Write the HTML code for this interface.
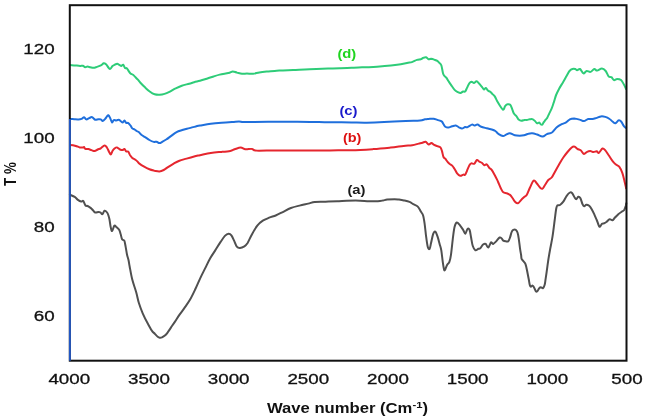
<!DOCTYPE html>
<html><head><meta charset="utf-8"><style>
html,body{margin:0;padding:0;background:#fff;}
body{width:647px;height:420px;overflow:hidden;}
svg{display:block;}
.tk{font-family:"Liberation Sans",Arial,sans-serif;font-size:15.3px;fill:#111;stroke:#111;stroke-width:0.3px;}
.ti{font-family:"Liberation Sans",Arial,sans-serif;font-weight:bold;font-size:14px;fill:#111;}
.lb{font-family:"Liberation Sans",Arial,sans-serif;font-weight:bold;font-size:12.2px;}
.c{fill:none;stroke-width:2.0;stroke-linejoin:round;stroke-linecap:round;}
</style></head><body>
<svg width="647" height="420" viewBox="0 0 647 420">
<rect x="0" y="0" width="647" height="420" fill="#fff"/>
<path class="c" stroke="#505050" d="M69.9,194.7 C70.7,195.1 73.4,196.0 74.7,196.9 C76.0,197.8 76.8,199.1 77.9,199.9 C79.0,200.7 80.2,201.4 81.1,201.6 C82.0,201.8 82.6,200.3 83.3,201.0 C84.0,201.7 84.8,204.7 85.5,205.5 C86.2,206.3 86.7,205.6 87.6,206.0 C88.5,206.4 90.0,207.4 90.9,208.1 C91.8,208.8 92.3,209.6 93.0,210.3 C93.7,211.0 94.3,212.2 95.2,212.5 C96.1,212.8 97.6,212.0 98.5,212.0 C99.4,212.0 99.9,212.1 100.6,212.5 C101.2,212.9 101.8,214.5 102.4,214.2 C103.1,213.9 103.7,211.0 104.5,210.7 C105.3,210.4 106.4,211.6 107.1,212.5 C107.8,213.4 108.2,214.8 108.6,216.0 C109.0,217.2 109.2,218.2 109.6,220.0 C109.9,221.8 110.3,225.2 110.7,227.1 C111.1,228.9 111.5,231.3 112.1,231.1 C112.7,230.9 113.6,226.4 114.3,225.7 C115.0,225.0 115.6,226.4 116.4,227.1 C117.2,227.8 118.6,228.8 119.3,230.0 C120.0,231.2 120.2,232.8 120.7,234.3 C121.2,235.9 121.5,238.2 122.1,239.3 C122.7,240.4 123.7,239.4 124.3,240.7 C124.9,242.0 125.2,244.7 125.7,247.1 C126.2,249.5 126.6,252.8 127.1,255.0 C127.6,257.2 128.2,258.6 128.6,260.5 C129.0,262.4 129.0,263.1 129.6,266.2 C130.2,269.3 131.1,274.9 132.2,279.3 C133.3,283.7 135.1,288.4 136.2,292.3 C137.3,296.2 137.7,299.3 138.8,302.8 C139.9,306.3 141.2,309.8 142.7,313.3 C144.2,316.8 146.3,320.8 147.9,323.7 C149.5,326.6 150.8,329.2 152.0,330.9 C153.2,332.6 154.0,332.8 154.9,333.8 C155.8,334.8 156.9,336.1 157.7,336.7 C158.5,337.3 159.0,337.6 159.7,337.7 C160.4,337.8 161.1,337.8 162.0,337.4 C162.9,337.0 164.0,336.4 164.9,335.6 C165.8,334.8 166.4,334.1 167.4,332.8 C168.4,331.5 169.6,329.5 170.9,327.6 C172.2,325.7 173.6,323.7 175.0,321.6 C176.4,319.5 177.7,317.3 179.2,315.1 C180.7,312.9 182.2,311.2 184.0,308.6 C185.8,306.0 188.2,302.9 190.1,299.6 C192.0,296.3 193.7,292.6 195.5,288.8 C197.3,285.0 199.3,280.1 201.0,276.6 C202.7,273.1 204.0,270.7 205.5,267.6 C207.0,264.5 208.6,261.0 210.2,258.2 C211.8,255.4 213.4,253.3 215.1,250.6 C216.8,247.9 219.0,244.3 220.6,241.9 C222.2,239.5 223.6,237.3 224.9,235.9 C226.2,234.5 227.5,233.8 228.6,233.7 C229.7,233.6 230.5,234.2 231.4,235.4 C232.3,236.6 233.3,239.0 234.2,240.9 C235.1,242.8 235.8,245.5 236.8,246.7 C237.8,247.9 238.7,248.1 240.0,248.0 C241.3,247.9 243.1,247.1 244.4,246.3 C245.7,245.5 246.3,245.0 247.6,243.0 C248.8,241.0 250.3,237.3 251.9,234.4 C253.5,231.5 255.5,228.0 257.3,225.7 C259.1,223.4 260.8,222.0 262.8,220.7 C264.8,219.4 267.1,218.6 269.2,217.7 C271.3,216.8 273.5,216.4 275.7,215.5 C277.9,214.6 279.7,213.6 282.2,212.3 C284.7,211.1 288.0,209.1 290.9,208.0 C293.8,206.9 296.6,206.3 299.5,205.6 C302.4,204.9 305.6,204.2 308.2,203.6 C310.8,203.0 311.9,202.2 314.8,201.9 C317.7,201.6 321.8,201.8 325.5,201.7 C329.2,201.6 332.1,201.5 337.1,201.3 C342.1,201.1 350.4,200.6 355.7,200.6 C361.0,200.6 365.3,201.1 369.0,201.2 C372.7,201.3 375.6,201.3 377.9,201.2 C380.2,201.1 381.4,200.8 383.0,200.5 C384.6,200.2 385.3,199.8 387.2,199.6 C389.1,199.4 392.6,199.2 394.6,199.2 C396.6,199.2 397.4,199.4 399.0,199.6 C400.6,199.8 402.1,200.0 403.9,200.4 C405.6,200.8 407.9,201.3 409.5,201.9 C411.1,202.5 411.8,203.3 413.2,204.1 C414.6,204.9 416.5,205.3 417.8,206.6 C419.1,207.9 420.1,210.3 421.0,211.8 C421.9,213.3 422.5,213.5 423.1,215.5 C423.7,217.5 424.1,220.1 424.6,223.6 C425.1,227.1 425.6,232.5 426.1,236.4 C426.6,240.3 427.2,245.0 427.8,247.1 C428.4,249.2 429.1,249.5 429.6,248.8 C430.2,248.1 430.5,245.3 431.1,242.8 C431.7,240.3 432.5,235.7 433.2,233.8 C433.9,232.0 434.6,231.3 435.3,231.7 C436.0,232.1 436.8,234.4 437.5,236.4 C438.2,238.4 439.0,241.6 439.6,243.9 C440.2,246.2 440.8,247.3 441.3,250.3 C441.8,253.3 442.3,258.8 442.8,262.1 C443.3,265.4 443.8,269.3 444.3,270.2 C444.8,271.1 445.5,268.5 446.0,267.5 C446.5,266.5 446.9,265.1 447.5,264.2 C448.1,263.3 448.7,263.7 449.3,262.1 C449.9,260.5 450.4,258.9 451.0,254.6 C451.6,250.3 452.5,241.0 453.1,236.4 C453.7,231.8 454.0,229.1 454.6,226.8 C455.2,224.5 455.9,222.8 456.8,222.5 C457.7,222.2 458.9,224.1 460.0,225.3 C461.1,226.6 462.3,228.6 463.2,230.0 C464.1,231.4 464.6,234.0 465.3,233.8 C466.0,233.6 466.8,229.5 467.5,228.9 C468.2,228.3 469.0,228.6 469.6,230.0 C470.2,231.4 470.6,234.8 471.1,237.5 C471.6,240.2 472.1,243.9 472.8,246.0 C473.5,248.1 474.5,249.8 475.4,250.3 C476.3,250.8 477.4,249.2 478.2,248.8 C479.0,248.5 479.5,248.9 480.3,248.2 C481.1,247.5 482.2,245.2 483.1,244.5 C484.0,243.8 484.9,243.4 485.7,243.9 C486.5,244.4 487.3,247.8 488.2,247.5 C489.1,247.2 490.2,243.0 491.0,242.4 C491.8,241.8 492.3,244.1 493.2,243.9 C494.1,243.7 495.3,242.2 496.4,241.1 C497.5,240.0 498.7,237.9 499.6,237.5 C500.5,237.1 501.1,237.9 501.7,238.4 C502.3,238.9 502.6,240.1 503.3,240.6 C504.0,241.1 505.0,241.2 505.8,241.3 C506.6,241.4 507.6,241.8 508.3,241.2 C509.0,240.6 509.4,239.1 510.0,237.5 C510.6,235.9 511.1,233.2 511.7,231.9 C512.2,230.6 512.6,230.2 513.3,229.8 C514.0,229.5 515.1,229.4 515.8,229.8 C516.5,230.2 517.0,231.1 517.5,232.5 C518.0,233.9 518.3,235.7 518.7,238.3 C519.1,240.9 519.6,245.5 520.0,248.3 C520.4,251.1 520.8,253.2 521.1,255.0 C521.4,256.8 521.2,257.8 521.6,258.8 C522.0,259.8 522.6,260.1 523.3,261.0 C523.9,261.9 524.9,262.6 525.5,264.2 C526.1,265.8 526.6,268.2 527.1,270.8 C527.6,273.4 528.3,277.1 528.8,279.5 C529.2,281.9 529.4,283.8 529.8,285.0 C530.1,286.2 530.4,286.6 530.9,286.7 C531.4,286.8 532.0,285.4 532.6,285.6 C533.2,285.8 533.7,286.7 534.2,287.7 C534.8,288.7 535.4,290.8 535.9,291.4 C536.4,291.9 537.0,291.5 537.5,291.0 C538.0,290.5 538.6,288.9 539.1,288.3 C539.6,287.7 540.1,287.2 540.8,287.2 C541.4,287.2 542.4,288.5 543.0,288.1 C543.6,287.7 544.1,286.6 544.6,285.0 C545.1,283.4 545.2,281.5 545.7,278.4 C546.2,275.3 547.0,269.5 547.4,266.4 C547.8,263.3 547.9,262.7 548.3,260.0 C548.7,257.3 549.3,253.9 550.0,250.0 C550.7,246.1 551.7,241.7 552.5,236.7 C553.3,231.7 554.1,224.7 554.7,220.0 C555.3,215.3 555.8,210.8 556.3,208.3 C556.8,205.9 556.9,205.9 557.5,205.3 C558.1,204.8 559.0,205.6 560.0,205.0 C561.0,204.4 562.2,203.2 563.3,201.7 C564.4,200.2 565.6,197.3 566.7,195.8 C567.8,194.3 569.1,193.0 570.0,192.5 C570.9,192.0 571.3,192.3 572.0,193.0 C572.7,193.7 573.5,195.7 574.2,196.7 C574.9,197.7 575.5,199.2 576.2,199.2 C576.9,199.2 577.6,196.9 578.3,196.7 C579.0,196.5 579.6,196.8 580.3,198.0 C581.0,199.2 581.9,202.8 582.5,204.2 C583.1,205.6 583.6,206.2 584.2,206.3 C584.8,206.4 585.5,204.8 586.3,204.7 C587.1,204.6 588.3,205.1 589.2,205.8 C590.1,206.6 590.9,207.8 591.7,209.2 C592.5,210.6 593.4,212.4 594.2,214.2 C595.0,216.0 596.0,218.2 596.7,220.0 C597.5,221.8 598.2,224.2 598.7,225.3 C599.2,226.4 599.5,227.0 600.0,226.7 C600.5,226.4 601.3,224.3 602.0,223.7 C602.7,223.1 603.4,223.6 604.2,223.3 C605.0,223.0 605.8,222.4 606.7,221.7 C607.6,221.0 608.7,219.4 609.7,219.2 C610.7,219.0 611.6,220.6 612.5,220.3 C613.4,220.0 614.0,218.5 615.0,217.5 C616.0,216.5 617.2,215.2 618.3,214.2 C619.4,213.2 620.7,212.4 621.7,211.7 C622.7,211.0 623.5,211.0 624.2,210.0 C624.9,209.0 625.4,206.9 625.8,205.8 C626.1,204.7 626.2,203.7 626.3,203.3"/>
<path class="c" stroke="#e5262e" d="M69.9,144.9 C70.4,144.9 71.9,145.0 73.0,145.2 C74.1,145.4 75.6,145.8 76.7,146.2 C77.8,146.6 78.8,147.2 79.8,147.4 C80.8,147.6 82.2,147.6 82.9,147.5 C83.6,147.4 83.6,146.8 84.0,147.0 C84.4,147.2 84.6,148.6 85.3,148.9 C86.0,149.2 87.4,148.9 88.4,149.1 C89.4,149.3 90.5,149.8 91.5,150.1 C92.5,150.4 93.6,151.2 94.6,151.1 C95.6,151.0 96.7,150.0 97.7,149.5 C98.7,149.0 99.7,149.0 100.8,148.3 C101.9,147.6 103.6,145.5 104.6,145.4 C105.6,145.3 106.3,146.7 107.0,147.7 C107.7,148.7 108.3,150.3 108.9,151.4 C109.5,152.5 110.2,154.6 110.8,154.5 C111.4,154.4 112.0,151.8 112.6,150.8 C113.2,149.8 113.8,149.2 114.5,148.6 C115.2,148.0 116.1,147.2 117.0,147.4 C117.9,147.6 119.1,149.1 120.0,149.5 C120.9,149.9 121.8,150.2 122.5,150.1 C123.2,150.0 123.8,148.7 124.4,148.9 C125.0,149.1 125.6,151.0 126.2,151.4 C126.8,151.8 127.4,151.0 128.1,151.6 C128.8,152.2 129.4,154.1 130.1,155.2 C130.8,156.2 131.5,157.2 132.3,157.9 C133.1,158.6 134.3,159.0 135.1,159.6 C135.9,160.2 136.6,160.7 137.3,161.4 C138.0,162.1 138.3,162.8 139.4,163.6 C140.5,164.4 142.0,165.4 143.7,166.4 C145.4,167.4 147.6,168.6 149.4,169.3 C151.2,170.0 152.7,170.3 154.4,170.7 C156.1,171.0 157.9,171.5 159.4,171.4 C160.9,171.3 162.3,170.7 163.7,170.0 C165.1,169.3 166.3,168.2 168.0,167.1 C169.7,166.0 171.8,164.7 173.7,163.6 C175.6,162.5 177.2,161.5 179.4,160.7 C181.6,159.9 183.9,159.4 186.6,158.6 C189.3,157.8 193.6,156.6 195.8,156.0 C198.0,155.4 197.5,155.7 200.0,155.2 C202.5,154.7 207.2,153.6 210.8,153.0 C214.4,152.4 218.3,152.2 221.6,151.9 C224.8,151.6 228.1,151.3 230.3,150.9 C232.5,150.5 232.9,149.9 234.6,149.3 C236.3,148.8 238.9,147.6 240.7,147.6 C242.5,147.6 243.5,149.1 245.4,149.3 C247.3,149.5 250.1,148.7 251.9,148.9 C253.7,149.1 252.3,150.3 256.3,150.6 C260.3,150.8 268.9,150.4 275.7,150.4 C282.5,150.4 290.2,150.6 297.4,150.6 C304.6,150.6 313.6,150.6 319.0,150.6 C324.4,150.6 324.6,150.5 330.0,150.4 C335.4,150.3 344.4,150.4 351.6,150.2 C358.8,150.0 366.8,149.5 373.3,149.1 C379.8,148.7 385.6,148.1 390.6,147.6 C395.7,147.1 400.0,146.3 403.6,145.9 C407.2,145.5 409.7,145.6 412.2,145.2 C414.7,144.8 417.0,144.0 418.7,143.6 C420.4,143.2 421.4,143.0 422.5,142.7 C423.6,142.4 424.6,141.5 425.6,141.8 C426.6,142.1 427.7,144.4 428.7,144.6 C429.7,144.8 430.5,142.9 431.4,143.0 C432.3,143.1 433.2,144.4 434.2,144.9 C435.2,145.4 436.3,145.7 437.3,146.1 C438.3,146.5 439.6,146.6 440.4,147.4 C441.2,148.2 441.5,149.5 442.0,151.1 C442.5,152.7 442.9,155.7 443.5,157.0 C444.1,158.3 444.6,157.8 445.3,158.7 C446.0,159.6 447.1,161.3 447.8,162.2 C448.5,163.1 448.9,163.4 449.7,164.0 C450.5,164.6 451.6,165.1 452.4,165.9 C453.2,166.7 453.8,167.8 454.6,169.0 C455.4,170.2 456.2,172.2 457.1,173.3 C458.0,174.4 459.2,175.6 460.2,175.8 C461.2,176.0 462.5,174.8 463.3,174.6 C464.1,174.4 464.5,175.4 465.1,174.8 C465.7,174.2 466.3,172.4 467.0,170.8 C467.7,169.2 468.7,166.5 469.4,165.3 C470.1,164.1 470.5,163.7 471.3,163.4 C472.1,163.1 473.5,164.3 474.4,163.7 C475.3,163.1 476.1,160.3 476.9,160.0 C477.7,159.7 478.5,161.1 479.3,161.6 C480.1,162.1 481.0,162.2 481.8,162.8 C482.6,163.4 483.5,165.0 484.3,165.3 C485.1,165.6 485.9,164.0 486.7,164.4 C487.5,164.8 488.4,166.9 489.2,167.8 C490.0,168.7 490.8,168.7 491.7,169.9 C492.6,171.1 493.9,173.5 494.8,175.2 C495.7,176.9 496.7,178.9 497.3,180.1 C497.9,181.3 497.7,181.1 498.3,182.5 C498.9,183.9 500.0,186.7 500.8,188.3 C501.6,189.9 502.3,191.5 503.3,192.3 C504.3,193.1 505.6,192.8 506.7,193.2 C507.8,193.6 509.0,194.1 510.0,194.9 C511.0,195.7 511.7,196.9 512.5,198.0 C513.3,199.1 514.1,200.8 515.0,201.7 C515.9,202.6 517.0,203.5 518.0,203.3 C519.0,203.1 519.8,201.4 520.8,200.3 C521.8,199.2 523.2,197.9 524.2,197.0 C525.2,196.1 525.7,196.6 526.7,195.0 C527.7,193.4 528.8,189.9 530.0,187.5 C531.2,185.1 532.6,181.2 533.7,180.5 C534.8,179.8 535.7,182.1 536.7,183.3 C537.8,184.5 539.0,186.6 540.0,187.5 C541.0,188.4 541.7,189.1 542.5,188.7 C543.3,188.3 544.0,186.4 545.0,185.0 C546.0,183.6 547.2,181.2 548.3,180.0 C549.4,178.8 550.6,178.9 551.7,177.5 C552.8,176.1 553.8,173.9 555.0,171.7 C556.2,169.5 557.8,166.6 559.2,164.2 C560.6,161.8 561.9,159.5 563.3,157.5 C564.7,155.5 566.1,153.7 567.5,152.0 C568.9,150.3 570.6,148.4 571.7,147.5 C572.8,146.6 573.3,146.3 574.3,146.6 C575.3,146.8 576.4,148.4 577.5,149.0 C578.6,149.6 579.6,149.5 580.7,150.3 C581.8,151.1 582.8,153.7 583.9,153.9 C585.0,154.2 586.0,152.3 587.1,151.8 C588.2,151.3 589.2,151.1 590.3,151.1 C591.4,151.1 592.4,152.0 593.5,152.0 C594.6,152.0 595.8,151.2 596.7,151.3 C597.6,151.4 597.9,153.3 598.9,152.8 C599.9,152.3 601.4,148.9 602.5,148.5 C603.6,148.1 604.3,149.2 605.3,150.3 C606.3,151.4 607.2,153.2 608.5,155.0 C609.8,156.8 611.5,159.8 612.8,161.4 C614.0,163.0 614.9,163.7 616.0,164.6 C617.1,165.5 618.1,165.3 619.2,166.7 C620.3,168.1 621.5,170.7 622.4,173.2 C623.3,175.7 624.0,179.2 624.6,181.7 C625.2,184.2 625.9,187.1 626.1,188.2"/>
<path class="c" stroke="#1f6fdc" d="M69.9,118.9 C70.6,119.0 72.8,119.1 74.2,119.2 C75.6,119.3 77.3,119.5 78.5,119.4 C79.7,119.4 80.7,119.2 81.6,118.9 C82.5,118.6 83.3,117.2 84.1,117.3 C84.9,117.4 85.5,119.2 86.3,119.4 C87.1,119.6 88.2,118.6 89.1,118.2 C90.0,117.8 90.8,116.9 91.5,116.9 C92.2,116.9 92.8,117.7 93.4,118.2 C94.0,118.7 94.5,119.6 95.3,119.8 C96.1,120.0 97.5,119.3 98.4,119.2 C99.3,119.1 100.1,119.1 100.8,119.4 C101.5,119.7 102.0,121.1 102.7,121.0 C103.4,120.9 104.5,119.7 105.2,118.9 C105.9,118.1 106.5,117.0 107.0,116.4 C107.5,115.8 107.8,115.0 108.3,115.2 C108.8,115.5 109.5,116.7 110.1,117.9 C110.7,119.1 111.4,121.9 112.0,122.3 C112.6,122.7 113.1,120.4 113.8,120.1 C114.5,119.8 115.5,120.5 116.3,120.4 C117.1,120.4 118.2,119.8 118.8,119.8 C119.4,119.8 119.4,119.9 120.0,120.4 C120.6,120.9 121.8,122.6 122.5,122.6 C123.2,122.6 123.8,120.4 124.4,120.4 C125.0,120.5 125.6,122.5 126.2,122.9 C126.8,123.3 127.6,122.7 128.1,122.9 C128.6,123.1 128.9,123.6 129.3,124.1 C129.7,124.6 130.1,125.0 130.6,125.7 C131.1,126.4 131.7,127.8 132.3,128.4 C132.9,129.0 133.7,128.9 134.4,129.3 C135.1,129.7 135.9,130.5 136.6,131.0 C137.3,131.5 137.9,131.4 138.7,132.1 C139.5,132.8 140.5,134.2 141.6,135.0 C142.7,135.8 143.8,136.3 145.1,137.1 C146.4,137.9 148.0,139.2 149.4,140.0 C150.8,140.8 152.5,141.6 153.7,141.9 C154.9,142.2 155.6,141.5 156.6,141.7 C157.6,141.9 158.3,143.1 159.4,143.1 C160.5,143.1 161.8,142.0 163.0,141.4 C164.2,140.8 165.3,140.2 166.6,139.3 C167.9,138.4 169.2,137.3 170.9,136.1 C172.6,134.9 174.7,133.1 176.6,132.1 C178.5,131.1 180.2,130.7 182.3,130.0 C184.4,129.3 187.2,128.7 189.4,128.1 C191.7,127.5 194.0,126.8 195.8,126.4 C197.6,126.0 197.5,125.9 200.0,125.5 C202.5,125.1 207.2,124.3 210.8,123.8 C214.4,123.3 218.0,123.0 221.6,122.7 C225.2,122.4 229.6,122.1 232.5,121.9 C235.4,121.7 237.2,121.4 239.0,121.4 C240.8,121.4 240.8,122.0 243.3,122.1 C245.8,122.2 248.7,122.0 254.1,121.9 C259.5,121.9 268.5,121.8 275.7,121.8 C282.9,121.8 290.2,121.8 297.4,121.8 C304.6,121.8 313.6,122.0 319.0,122.1 C324.4,122.2 324.6,122.1 330.0,122.2 C335.4,122.3 345.5,122.4 351.6,122.5 C357.7,122.6 361.4,122.8 366.8,122.7 C372.2,122.6 377.6,122.4 384.1,122.1 C390.6,121.8 399.7,121.3 405.7,121.0 C411.7,120.7 416.8,120.8 420.0,120.5 C423.2,120.2 423.4,119.6 424.9,119.3 C426.3,119.0 427.2,119.0 428.7,118.9 C430.1,118.8 432.2,118.5 433.6,118.7 C435.0,118.9 436.0,119.5 437.3,119.9 C438.6,120.4 440.6,120.7 441.6,121.4 C442.6,122.1 442.9,123.3 443.5,124.2 C444.1,125.1 444.5,126.1 445.3,126.7 C446.1,127.3 447.3,127.7 448.4,127.6 C449.5,127.5 450.9,126.6 452.1,126.3 C453.3,126.0 454.7,125.3 455.8,125.5 C456.9,125.7 457.9,126.8 458.9,127.3 C459.9,127.8 461.0,128.5 462.0,128.5 C463.0,128.5 464.2,127.3 465.1,127.1 C466.0,126.9 466.5,127.5 467.6,127.1 C468.7,126.7 470.8,124.9 471.9,124.6 C473.0,124.3 473.5,125.5 474.4,125.5 C475.3,125.5 476.4,124.4 477.5,124.6 C478.6,124.8 479.7,126.1 481.2,126.7 C482.7,127.3 484.9,127.8 486.7,128.3 C488.4,128.8 490.2,129.1 491.7,129.5 C493.1,129.9 494.2,130.2 495.4,131.0 C496.6,131.8 497.4,133.3 498.7,134.1 C500.0,134.9 501.8,135.9 503.0,136.0 C504.2,136.1 505.0,135.2 506.1,134.7 C507.2,134.2 508.4,133.1 509.8,133.2 C511.2,133.3 513.1,134.9 514.8,135.3 C516.4,135.7 518.2,135.7 519.7,135.7 C521.2,135.7 522.5,135.6 524.0,135.3 C525.5,135.0 527.0,134.0 528.4,133.7 C529.8,133.3 530.7,133.1 532.1,133.2 C533.5,133.3 535.2,133.9 537.0,134.5 C538.8,135.1 541.0,136.7 542.6,136.6 C544.2,136.5 545.4,134.8 546.9,134.1 C548.4,133.4 550.2,133.6 551.9,132.5 C553.5,131.4 555.2,128.7 556.8,127.3 C558.4,125.9 560.2,125.0 561.7,124.2 C563.2,123.4 564.8,123.2 566.1,122.4 C567.5,121.6 568.5,120.0 569.8,119.3 C571.1,118.6 572.5,118.4 574.1,118.4 C575.7,118.5 578.0,119.1 579.6,119.6 C581.2,120.0 582.5,121.2 583.9,121.1 C585.3,121.0 586.8,119.3 588.2,119.0 C589.6,118.7 591.2,119.2 592.5,119.0 C593.8,118.8 594.7,118.5 596.1,118.1 C597.5,117.7 599.5,116.6 601.0,116.4 C602.5,116.2 603.9,116.5 605.3,116.9 C606.7,117.3 608.4,118.2 609.6,119.0 C610.9,119.8 611.8,121.1 612.8,121.8 C613.8,122.5 614.4,123.5 615.4,123.3 C616.4,123.0 617.8,120.5 618.8,120.3 C619.8,120.0 620.5,120.8 621.4,121.8 C622.2,122.8 623.1,125.1 623.9,126.1 C624.7,127.1 625.7,127.7 626.1,128.0"/>
<path class="c" stroke="#2ecc78" d="M69.9,65.0 C70.8,65.1 73.7,65.2 75.4,65.4 C77.1,65.6 78.9,65.9 80.1,65.9 C81.3,66.0 81.9,65.5 82.8,65.7 C83.7,65.9 84.4,67.2 85.2,67.3 C86.0,67.4 86.7,66.6 87.5,66.6 C88.3,66.6 89.3,67.0 90.3,67.2 C91.3,67.4 92.4,67.8 93.5,67.8 C94.6,67.8 95.6,67.3 96.8,66.9 C98.0,66.5 99.8,66.0 100.9,65.4 C102.1,64.8 102.9,63.5 103.7,63.3 C104.5,63.1 105.2,63.6 106.0,64.3 C106.8,65.0 107.7,66.7 108.4,67.5 C109.1,68.3 109.5,69.1 110.2,68.9 C110.9,68.7 111.7,66.8 112.5,66.1 C113.3,65.4 114.0,65.1 114.8,64.7 C115.6,64.3 116.4,63.8 117.2,63.8 C118.0,63.8 118.8,64.7 119.5,65.0 C120.2,65.3 120.7,66.0 121.3,65.9 C121.9,65.9 122.6,64.4 123.2,64.7 C123.8,65.0 124.4,67.4 125.0,68.0 C125.6,68.6 126.2,67.7 126.8,68.2 C127.4,68.7 128.1,70.2 128.7,71.1 C129.3,72.0 129.8,72.9 130.5,73.5 C131.2,74.1 132.2,74.2 133.0,74.8 C133.8,75.4 134.7,76.4 135.5,77.2 C136.3,78.0 137.1,78.8 137.9,79.7 C138.7,80.6 139.3,81.6 140.4,82.8 C141.5,84.0 143.1,85.6 144.7,87.1 C146.2,88.5 148.0,90.3 149.7,91.5 C151.3,92.7 152.9,93.8 154.6,94.3 C156.2,94.8 157.9,94.9 159.6,94.8 C161.2,94.7 162.9,94.4 164.5,93.9 C166.1,93.4 167.6,92.7 169.4,91.8 C171.2,90.9 173.5,89.4 175.6,88.4 C177.7,87.4 179.5,86.5 181.8,85.7 C184.1,84.9 187.1,84.3 189.2,83.7 C191.3,83.1 192.4,82.7 194.2,82.2 C196.0,81.7 197.8,81.4 200.0,80.8 C202.2,80.2 205.2,79.2 207.4,78.5 C209.7,77.8 211.4,77.2 213.5,76.5 C215.6,75.8 217.2,75.2 219.7,74.6 C222.2,74.0 226.2,73.5 228.4,73.0 C230.6,72.5 231.3,71.5 232.7,71.4 C234.1,71.3 235.4,72.2 237.0,72.6 C238.6,73.0 240.3,73.6 242.0,73.8 C243.7,74.0 245.1,73.6 246.9,73.6 C248.8,73.6 251.0,74.0 253.1,73.8 C255.2,73.6 257.0,72.8 259.3,72.4 C261.6,72.0 264.1,71.7 266.7,71.4 C269.3,71.2 272.0,71.1 274.7,70.9 C277.4,70.7 279.9,70.6 283.0,70.4 C286.1,70.2 289.6,70.2 293.2,70.0 C296.8,69.8 300.9,69.7 304.8,69.5 C308.7,69.3 312.5,69.2 316.4,69.1 C320.3,68.9 324.1,68.8 328.0,68.6 C331.9,68.4 335.7,68.3 339.6,68.2 C343.5,68.1 347.9,68.0 351.6,67.8 C355.3,67.6 358.4,67.4 362.0,67.3 C365.6,67.2 369.5,67.1 373.3,66.9 C377.1,66.7 380.7,66.4 384.7,66.1 C388.7,65.8 393.4,65.3 397.1,64.8 C400.8,64.3 404.5,63.5 407.0,63.0 C409.5,62.5 410.2,62.6 411.9,62.1 C413.5,61.6 415.4,60.4 416.9,59.9 C418.3,59.4 419.6,59.6 420.6,59.3 C421.6,59.0 422.1,58.4 423.0,58.0 C423.9,57.6 425.2,57.0 426.1,57.2 C427.0,57.4 427.8,59.0 428.6,59.3 C429.4,59.5 430.2,58.7 431.1,58.7 C432.0,58.8 433.2,59.2 434.2,59.6 C435.2,60.0 436.5,60.4 437.3,60.9 C438.1,61.4 438.4,61.8 439.1,62.6 C439.8,63.4 440.8,63.7 441.4,65.5 C442.0,67.3 442.5,71.5 443.0,73.2 C443.5,75.0 443.9,75.2 444.5,76.0 C445.1,76.8 445.9,77.1 446.5,77.9 C447.1,78.7 447.6,79.7 448.4,81.0 C449.2,82.3 450.5,84.1 451.5,85.6 C452.5,87.1 453.6,88.8 454.6,89.9 C455.6,91.0 456.7,91.6 457.7,92.1 C458.7,92.6 459.6,93.1 460.5,93.0 C461.4,92.9 462.3,91.8 463.1,91.5 C463.9,91.2 464.5,92.1 465.1,91.5 C465.8,90.9 466.3,89.3 467.0,87.9 C467.7,86.5 468.5,84.3 469.3,83.3 C470.1,82.3 470.8,81.8 471.6,81.7 C472.4,81.7 473.1,83.1 473.9,83.0 C474.7,82.9 475.7,81.2 476.6,81.3 C477.5,81.4 478.3,82.7 479.3,83.7 C480.3,84.7 481.6,86.5 482.4,87.5 C483.2,88.5 483.4,89.4 484.0,89.5 C484.6,89.6 485.2,87.7 485.8,87.9 C486.4,88.1 487.2,89.9 487.9,90.6 C488.6,91.2 489.4,91.2 490.2,91.8 C491.0,92.4 491.7,93.3 492.5,94.1 C493.3,94.9 494.0,95.2 494.8,96.4 C495.6,97.6 496.3,99.7 497.1,101.1 C497.9,102.5 498.5,103.5 499.5,105.0 C500.5,106.5 502.3,109.6 503.2,109.8 C504.1,110.0 504.4,107.0 505.1,106.1 C505.8,105.2 506.5,104.5 507.4,104.3 C508.2,104.1 509.4,103.9 510.2,104.7 C511.0,105.5 511.5,107.4 512.1,108.9 C512.7,110.4 513.2,112.4 513.9,113.6 C514.6,114.8 515.4,114.9 516.2,115.9 C517.0,116.9 517.8,118.8 518.6,119.6 C519.5,120.4 520.3,120.8 521.3,120.8 C522.3,120.8 523.7,120.1 524.6,119.9 C525.5,119.8 526.0,120.0 526.9,119.9 C527.8,119.8 528.7,119.4 529.7,119.3 C530.7,119.2 532.0,118.9 532.9,119.3 C533.8,119.7 534.6,120.7 535.3,121.4 C536.0,122.1 536.4,123.1 537.1,123.3 C537.8,123.5 538.8,122.4 539.4,122.6 C540.0,122.8 540.3,124.2 540.8,124.5 C541.3,124.8 541.7,125.0 542.2,124.7 C542.7,124.4 543.1,123.2 543.6,122.4 C544.1,121.6 544.9,120.7 545.5,119.9 C546.1,119.1 546.7,118.8 547.3,117.7 C547.9,116.7 548.5,115.1 549.2,113.6 C549.9,112.1 550.7,110.8 551.5,108.9 C552.3,107.0 553.0,104.7 553.8,102.4 C554.6,100.1 555.2,97.2 556.1,95.0 C557.0,92.8 557.9,91.1 559.0,89.0 C560.1,86.9 561.6,84.6 562.9,82.4 C564.2,80.2 565.6,77.6 566.7,75.7 C567.8,73.8 568.5,72.1 569.5,71.0 C570.5,69.9 571.4,69.3 572.4,69.0 C573.4,68.7 574.4,68.8 575.2,69.0 C576.0,69.2 576.3,70.2 577.1,70.2 C577.9,70.2 579.0,68.5 580.0,69.0 C581.0,69.5 582.3,73.1 583.4,73.4 C584.5,73.7 585.5,71.2 586.7,71.0 C587.9,70.8 589.2,72.2 590.5,71.9 C591.8,71.6 593.2,69.2 594.3,69.0 C595.4,68.8 595.8,70.7 597.1,70.6 C598.4,70.5 600.5,68.4 601.9,68.5 C603.3,68.6 604.6,69.7 605.7,71.0 C606.8,72.3 607.7,75.3 608.6,76.3 C609.5,77.3 610.5,76.6 611.4,77.2 C612.3,77.8 612.9,79.8 613.9,80.1 C614.9,80.4 615.9,79.0 617.1,79.0 C618.3,79.0 619.9,79.2 621.0,80.1 C622.1,81.0 622.9,82.8 623.8,84.3 C624.6,85.8 625.7,88.2 626.1,89.0"/>
<rect x="69.8" y="5.2" width="556.7" height="355.5" fill="none" stroke="#111" stroke-width="2"/>
<line x1="69.89999999999999" y1="119" x2="69.89999999999999" y2="360.7" stroke="#2257c4" stroke-width="1.9"/>
<text x="56.43" y="384.3" transform="scale(1.228,1)" text-anchor="middle" class="tk">4000</text>
<text x="121.31" y="384.3" transform="scale(1.228,1)" text-anchor="middle" class="tk">3500</text>
<text x="186.19" y="384.3" transform="scale(1.228,1)" text-anchor="middle" class="tk">3000</text>
<text x="251.07" y="384.3" transform="scale(1.228,1)" text-anchor="middle" class="tk">2500</text>
<text x="315.95" y="384.3" transform="scale(1.228,1)" text-anchor="middle" class="tk">2000</text>
<text x="380.83" y="384.3" transform="scale(1.228,1)" text-anchor="middle" class="tk">1500</text>
<text x="445.71" y="384.3" transform="scale(1.228,1)" text-anchor="middle" class="tk">1000</text>
<text x="510.59" y="384.3" transform="scale(1.228,1)" text-anchor="middle" class="tk">500</text>
<text x="44.46" y="54.25" transform="scale(1.228,1)" text-anchor="end" class="tk">120</text>
<text x="44.46" y="143.10" transform="scale(1.228,1)" text-anchor="end" class="tk">100</text>
<text x="44.46" y="231.90" transform="scale(1.228,1)" text-anchor="end" class="tk">80</text>
<text x="44.46" y="320.80" transform="scale(1.228,1)" text-anchor="end" class="tk">60</text>
<text x="267.0" y="413.1" class="ti" textLength="161" lengthAdjust="spacingAndGlyphs">Wave number (Cm<tspan dy="-5" font-size="9.5">-1</tspan><tspan dy="5">)</tspan></text>
<text transform="translate(16,185.9) scale(1.25,1) rotate(-90)" class="ti" style="font-size:13.3px">T %</text>
<text x="337.4" y="58.2" class="lb" fill="#1fd41f" textLength="18.9" lengthAdjust="spacingAndGlyphs">(d)</text>
<text x="339.4" y="115.1" class="lb" fill="#1a1acc" textLength="18.2" lengthAdjust="spacingAndGlyphs">(c)</text>
<text x="342.9" y="142.4" class="lb" fill="#dd1111" textLength="18.5" lengthAdjust="spacingAndGlyphs">(b)</text>
<text x="347.4" y="194.4" class="lb" fill="#1a1a1a" textLength="18.1" lengthAdjust="spacingAndGlyphs">(a)</text>
</svg>
</body></html>
